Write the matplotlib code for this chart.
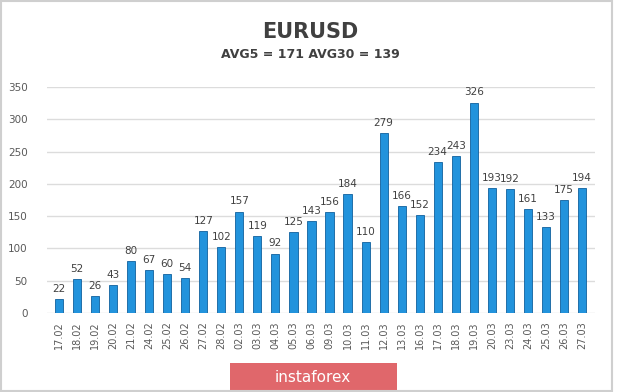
import matplotlib.pyplot as plt
from matplotlib.patches import Rectangle

dates = ['17.02', '18.02', '19.02', '20.02', '21.02', '24.02', '25.02', '26.02', '27.02', '28.02',
         '02.03', '03.03', '04.03', '05.03', '06.03', '09.03', '10.03', '11.03', '12.03', '13.03',
         '16.03', '17.03', '18.03', '19.03', '20.03', '23.03', '24.03', '25.03', '26.03', '27.03']
values = [22, 52, 26, 43, 80, 67, 60, 54, 127, 102,
          157, 119, 92, 125, 143, 156, 184, 110, 279, 166,
          152, 234, 243, 326, 193, 192, 161, 133, 175, 194]
yticks = [0, 50, 100, 150, 200, 250, 300, 350]

fig = plt.figure(figsize=(6.2, 3.92), dpi=100)
fig.patch.set_facecolor('white')
ax = fig.add_axes([0.0758, 0.2015, 0.884, 0.5765])

x = range(len(values))
ax.bar(x, values, width=0.45, color='#2293dc', edgecolor='#10609e', linewidth=0.6, zorder=3)
for i, v in zip(x, values):
    ax.text(i, v + 8, str(v), ha='center', va='bottom', fontsize=7.5, color='#404040', zorder=4)

ax.set_ylim(0, 350)
ax.set_xlim(-0.67, 29.73)
ax.set_yticks(yticks)
ax.grid(axis='y', color='#dcdcdc', linewidth=1, zorder=0)
ax.set_xticks(list(x))
ax.set_xticklabels(dates, rotation=90, fontsize=7, color='#595959')
ax.tick_params(axis='y', labelsize=7.5, colors='#595959', length=0, pad=14)
ax.tick_params(axis='x', length=0, pad=6)
for s in ax.spines.values():
    s.set_visible(False)

fig.text(0.5, 0.918, 'EURUSD', ha='center', va='center', fontsize=15, fontweight='bold', color='#404040')
fig.text(0.5, 0.862, 'AVG5 = 171 AVG30 = 139', ha='center', va='center', fontsize=9, fontweight='bold', color='#404040')

# instaforex badge
fig.patches.append(Rectangle((230 / 620, 0), 167 / 620, 29 / 392, transform=fig.transFigure,
                             facecolor='#e0676b', edgecolor='none'))
fig.text(313 / 620, 14 / 392, 'instaforex', ha='center', va='center', fontsize=11, color='white')

# outer frame
fig.patches.append(Rectangle((0.002, 0.003), 0.985, 0.994, transform=fig.transFigure,
                             facecolor='none', edgecolor='#cfcfcf', linewidth=1.5))

fig.savefig('out.png', dpi=100)
